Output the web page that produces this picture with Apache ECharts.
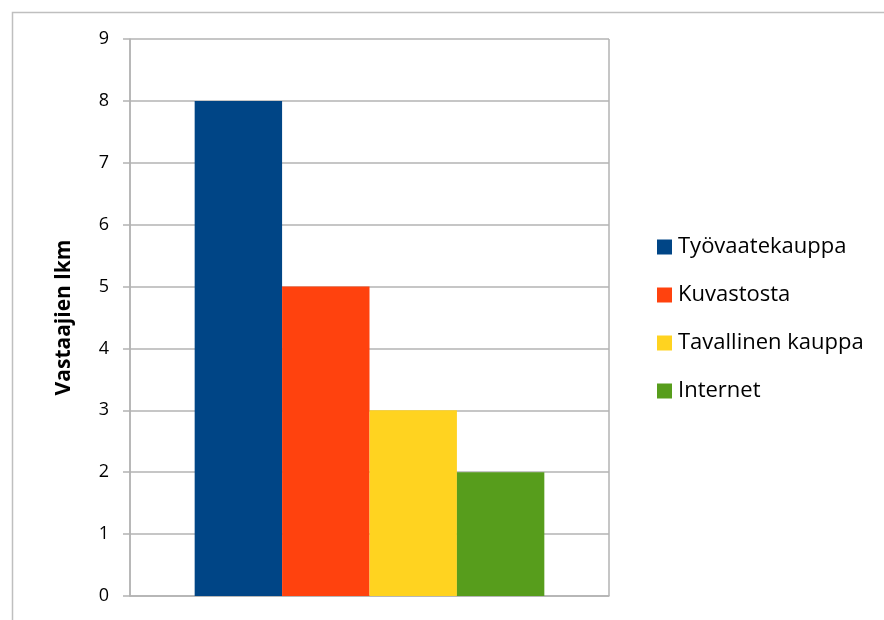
<!DOCTYPE html>
<html><head><meta charset="utf-8">
<script src="https://cdn.jsdelivr.net/npm/echarts@6/dist/echarts.min.js"></script>
<style>html,body{margin:0;padding:0;background:#fff}#c{width:884px;height:620px}</style>
</head><body><div id="c"></div>
<script>
const categories = [''];
const seriesNames = ['Työvaatekauppa', 'Kuvastosta', 'Tavallinen kauppa', 'Internet'];
const seriesValues = [[8], [5], [3], [2]];
const colors = ['#004586', '#ff420e', '#ffd320', '#579d1c'];
const yTicks = { min: 0, max: 9, interval: 1 };
const yName = 'Vastaajien lkm';

const chart = echarts.init(document.getElementById('c'));
chart.setOption({
  animation: false,
  backgroundColor: '#fff',
  graphic: [{
    type: 'rect', left: 10, top: 10,
    shape: { width: 1000, height: 1000 },
    style: { fill: 'none', stroke: '#bfbfbf', lineWidth: 1.5 }, silent: true
  }],
  grid: { left: 130, right: 275, top: 39, bottom: 24 },
  legend: {
    orient: 'vertical', left: 652, top: 231,
    itemWidth: 15, itemHeight: 15, itemGap: 26,
    icon: 'rect',
    textStyle: { fontFamily: 'Open Sans', fontSize: 22, lineHeight: 22, color: '#000', padding: [0, 0, 0, 1] },
    data: seriesNames
  },
  xAxis: {
    type: 'category', data: categories,
    axisLine: { show: true, lineStyle: { color: '#b3b3b3', width: 1.5 } },
    axisTick: { show: false }, axisLabel: { show: false },
    splitLine: { show: true, lineStyle: { color: '#b3b3b3', width: 1.5 } }
  },
  yAxis: {
    type: 'value', min: yTicks.min, max: yTicks.max, interval: yTicks.interval,
    name: yName, nameLocation: 'middle', nameGap: 55, nameRotate: 90,
    nameTextStyle: { fontFamily: 'Open Sans', fontWeight: 'bold', fontSize: 21, color: '#000' },
    axisLine: { show: true, lineStyle: { color: '#b3b3b3', width: 1.5 } },
    axisTick: { show: true, inside: false, length: 7, lineStyle: { color: '#b3b3b3', width: 1.5 } },
    axisLabel: { fontFamily: 'Open Sans', fontSize: 18, color: '#000', margin: 21 },
    splitLine: { show: true, lineStyle: { color: '#b3b3b3', width: 1.5 } }
  },
  series: seriesNames.map((n, i) => ({
    name: n, type: 'bar', data: seriesValues[i],
    itemStyle: { color: colors[i] },
    barGap: '0%', barCategoryGap: '27%'
  }))
});
</script></body></html>
